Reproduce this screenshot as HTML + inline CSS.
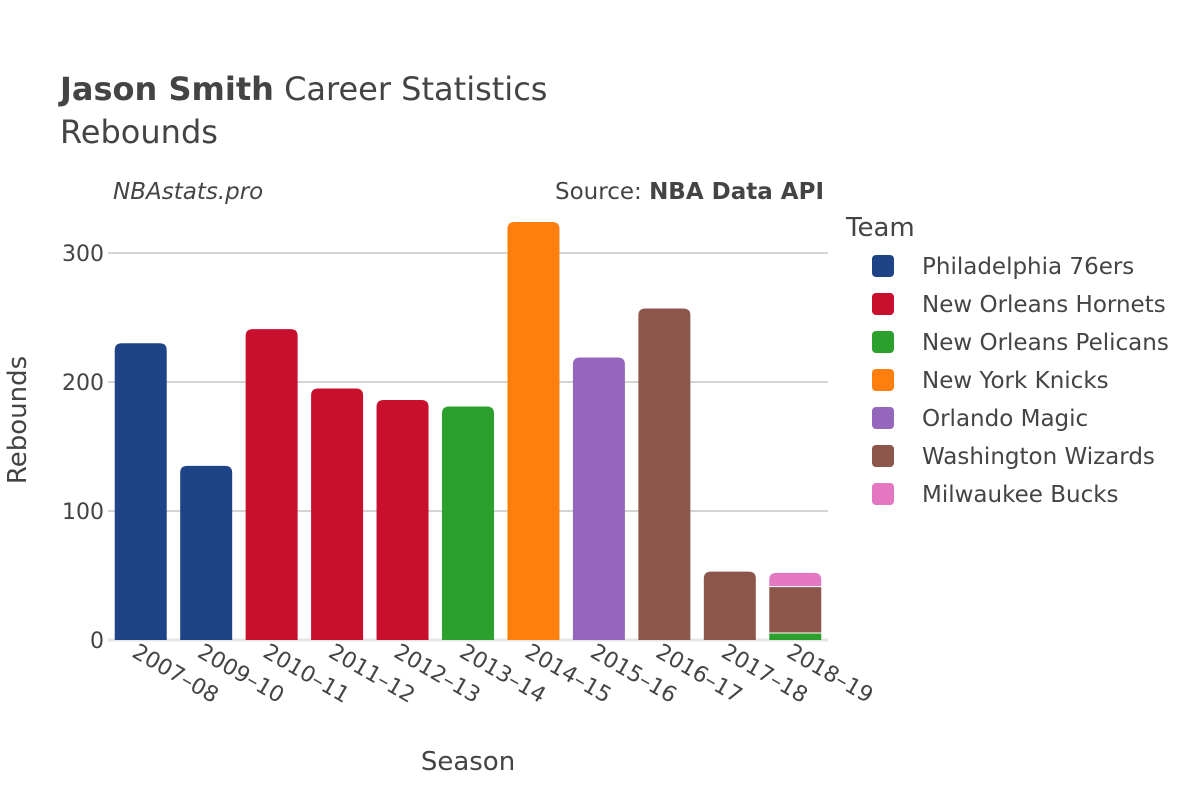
<!DOCTYPE html>
<html><head><meta charset="utf-8"><style>
body{margin:0;background:#fff}
svg{font-family:"DejaVu Sans","Liberation Sans",sans-serif;fill:#444}
</style></head><body>
<svg id="chart" width="1200" height="800" viewBox="0 0 1200 800">
<text x="60" y="100" font-size="32" fill="#444"><tspan font-weight="bold">Jason Smith</tspan> Career Statistics</text>
<text x="60" y="143" font-size="32" fill="#444">Rebounds</text>
<text x="113" y="199" font-size="23" font-style="italic" fill="#444">NBAstats.pro</text>
<text x="824" y="199" font-size="23" text-anchor="end" fill="#444">Source: <tspan font-weight="bold">NBA Data API</tspan></text>
<g id="grid"></g>
<g id="bars"></g>
<g id="xlabels"></g>
<text x="468" y="770" font-size="26" text-anchor="middle" fill="#444">Season</text>
<text transform="translate(26,420) rotate(-90)" font-size="26" text-anchor="middle" fill="#444">Rebounds</text>
<text x="846" y="236" font-size="26" fill="#444">Team</text>
<g id="legend"></g>
</svg>
<script>
const seasons=["2007–08","2009–10","2010–11","2011–12","2012–13","2013–14","2014–15","2015–16","2016–17","2017–18","2018–19"];
const teams=["Philadelphia 76ers","New Orleans Hornets","New Orleans Pelicans","New York Knicks","Orlando Magic","Washington Wizards","Milwaukee Bucks"];
const colors=["#1f4387","#c8102e","#2ca02c","#ff7f0e","#9467bd","#8c564b","#e377c2"];
const seg76=[230,135,0,0,0,0,0,0,0,0,0];
const segHornets=[0,0,241,195,186,0,0,0,0,0,0];
const segPelicans=[0,0,0,0,0,181,0,0,0,0,5];
const segKnicks=[0,0,0,0,0,0,324,0,0,0,0];
const segMagic=[0,0,0,0,0,0,0,219,0,0,0];
const segWizards=[0,0,0,0,0,0,0,0,257,53,36];
const segBucks=[0,0,0,0,0,0,0,0,0,0,11];
const yTicks=[0,100,200,300];
const series=[seg76,segHornets,segPelicans,segKnicks,segMagic,segWizards,segBucks];
const NS="http://www.w3.org/2000/svg";
const x0=108,x1=828,yBase=640,pxPer=1.29;
const band=(x1-x0)/seasons.length,bw=52;
const X=i=>x0+band*i+band/2;
const Y=v=>yBase-v*pxPer;
function mk(t,a,p){const e=document.createElementNS(NS,t);for(const k in a)e.setAttribute(k,a[k]);p.appendChild(e);return e;}
const grid=document.getElementById('grid');
yTicks.forEach(t=>{
 const l=mk('line',{x1:x0,x2:x1,y1:Y(t),y2:Y(t),stroke:t===0?'#e5e5e5':'#bbb','stroke-width':t===0?3:1.3},grid);
 
 
 const tx=mk('text',{x:x0-4,y:Y(t)+8,'font-size':22,'text-anchor':'end',fill:'#444'},grid);
 tx.textContent=t;
 
 
});
const bars=document.getElementById('bars');
seasons.forEach((s,i)=>{
 let cum=0;let topIdx=-1;
 series.forEach((arr,k)=>{if(arr[i]>0)topIdx=k;});
 series.forEach((arr,k)=>{
  const v=arr[i]; if(!v)return;
  const yt=Y(cum+v),yb=Y(cum);
  const xl=X(i)-bw/2,r=k===topIdx?Math.min(7,(yb-yt)/2):0;
  const h=yb-yt-(cum>0?1:0);
  const d=`M${xl},${yt+h} L${xl},${yt+r} Q${xl},${yt} ${xl+r},${yt} L${xl+bw-r},${yt} Q${xl+bw},${yt} ${xl+bw},${yt+r} L${xl+bw},${yt+h} Z`;
  const p=mk('path',{d:d,fill:colors[k]},bars);
  
  
  cum+=v;
 });
 const t=mk('text',{transform:`translate(${X(i)-10},${656}) rotate(30)`,'font-size':22,fill:'#444'},document.getElementById('xlabels'));
 t.textContent=s;
 
 
});
const lg=document.getElementById('legend');
teams.forEach((tm,k)=>{
 const y=266+k*38;
 const g=mk('g',{},lg);
 
 
 mk('rect',{x:872,y:y-11,width:22,height:22,rx:4,fill:colors[k]},g);
 const t=mk('text',{x:922,y:y+8,'font-size':23,fill:'#444'},g);
 t.textContent=tm;
});
</script>
</body></html>
